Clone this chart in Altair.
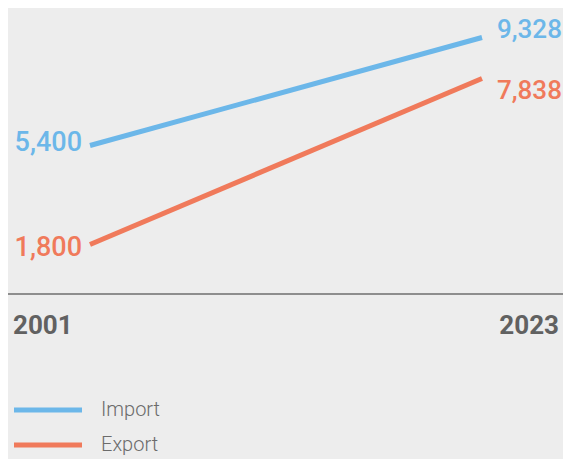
import altair as alt
import pandas as pd

# ---- data ----
series = ["Import", "Export"]
years = [2001, 2023]
import_values = [5400, 9328]
export_values = [1800, 7838]
colors = ["#6cb7e9", "#f07a5b"]

rows = []
for s, vals in zip(series, [import_values, export_values]):
    for yr, v in zip(years, vals):
        rows.append({"series": s, "year": yr, "value": v})
df = pd.DataFrame(rows)
legend_df = pd.DataFrame({"series": series})
year_df = pd.DataFrame({"year": [str(y) for y in years]})
zero_df = pd.DataFrame({"v": [0]})

W, H = 555, 451
FONT = "Roboto"

xs = alt.Scale(domain=[2001, 2023], range=[82, 474])
ys = alt.Scale(domain=[0, 10000], range=[286, 11])
cs = alt.Scale(domain=series, range=colors)

X = alt.X("year:Q", scale=xs, axis=None)
Y = alt.Y("value:Q", scale=ys, axis=None)
C = alt.Color("series:N", scale=cs, legend=None)

base = alt.Chart(df)

lines = base.mark_line(strokeWidth=5, strokeCap="butt").encode(x=X, y=Y, color=C)


def vlabel(s, yr, align, dx, dy, size):
    return base.transform_filter(
        f"datum.series == '{s}' && datum.year == {yr}"
    ).mark_text(
        align=align, baseline="alphabetic", dx=dx, dy=dy,
        font=FONT, fontSize=size, fontWeight=500
    ).encode(x=X, y=Y, color=C, text=alt.Text("value:Q", format=","))


labels = [
    vlabel("Import", 2001, "right", -8, 5.5, 27),
    vlabel("Export", 2001, "right", -8, 11.5, 27),
    vlabel("Import", 2023, "left", 15, 0.5, 26),
    vlabel("Export", 2023, "left", 15, 20.5, 26),
]

rule = alt.Chart(zero_df).mark_rule(color="#6e6e6e", strokeWidth=1.5).encode(
    y=alt.Y("v:Q", scale=ys, axis=None), x=alt.value(0), x2=alt.value(W)
)

year_left = alt.Chart(year_df).transform_filter("datum.year == '2001'").mark_text(
    align="left", baseline="alphabetic", font=FONT, fontSize=26, fontWeight="bold", color="#616161"
).encode(x=alt.value(5), y=alt.value(326), text="year:N")

year_right = alt.Chart(year_df).transform_filter("datum.year == '2023'").mark_text(
    align="right", baseline="alphabetic", font=FONT, fontSize=26, fontWeight="bold", color="#616161"
).encode(x=alt.value(551), y=alt.value(326), text="year:N")

leg_y = alt.Y("series:N", scale=alt.Scale(domain=series, range=[402, 437], type="point", padding=0), axis=None)

leg_rule = alt.Chart(legend_df).mark_rule(strokeWidth=5).encode(
    y=leg_y, x=alt.value(6), x2=alt.value(74), color=C
)
leg_text = alt.Chart(legend_df).mark_text(
    align="left", baseline="alphabetic", dy=6, font=FONT, fontSize=20, fontWeight=300, color="#6b6b6b"
).encode(y=leg_y, x=alt.value(93), text="series:N")

chart = alt.layer(
    rule, lines, *labels, year_left, year_right, leg_rule, leg_text
).resolve_scale(y="independent").properties(
    width=W, height=H, autosize=alt.AutoSizeParams(type="none"), padding=0, background="#ededed"
).configure_view(stroke=None)

chart.save("out.html", embed_options={"renderer": "svg", "actions": False})
